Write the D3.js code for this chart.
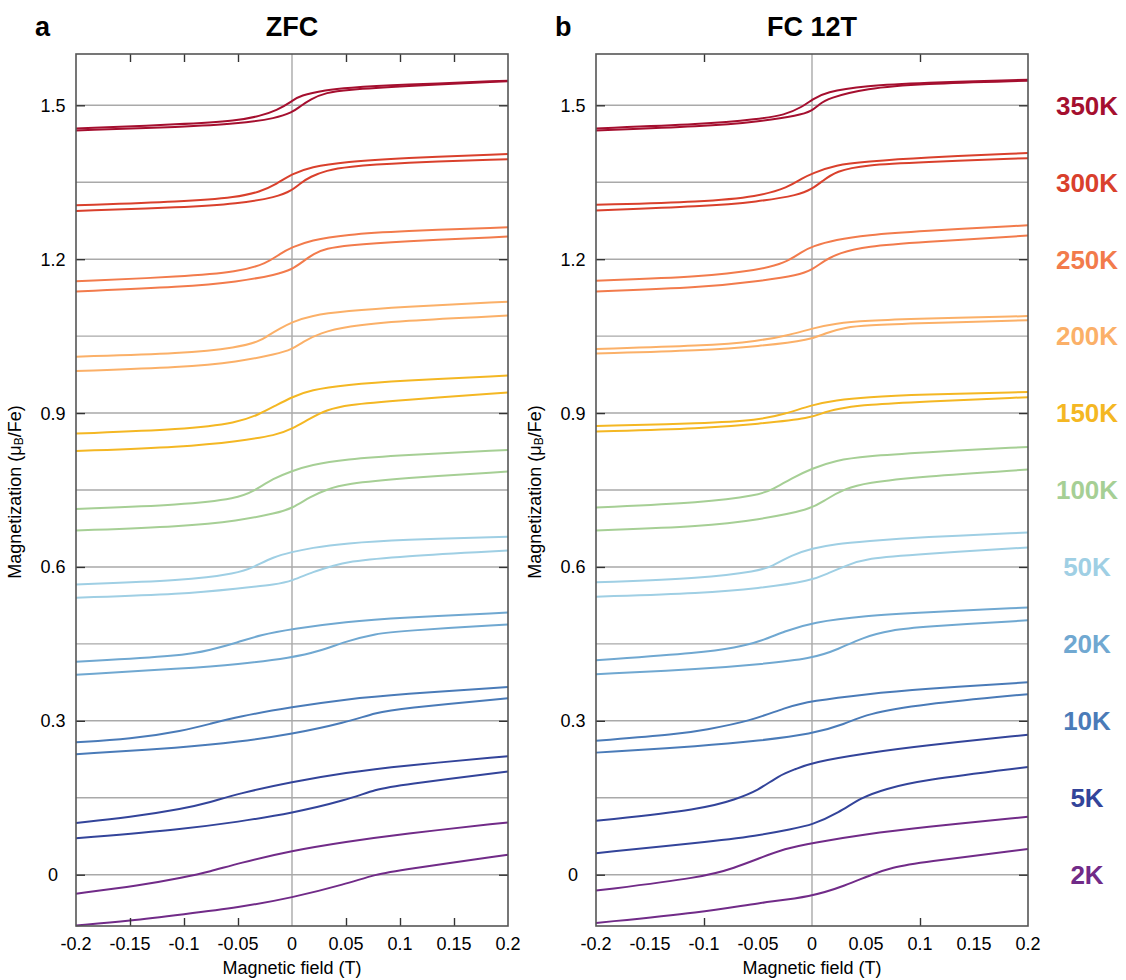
<!DOCTYPE html>
<html>
<head>
<meta charset="utf-8">
<script src="https://cdn.jsdelivr.net/npm/d3@7"></script>
<style>
  body { margin: 0; background: #fff; }
  svg text { font-family: "Liberation Sans", Arial, sans-serif; fill: #000; }
</style>
</head>
<body>
<svg id="chart" width="1126" height="980"></svg>
<script>
// temperatures, top to bottom, and their colours
const temps = ['350K', '300K', '250K', '200K', '150K', '100K', '50K', '20K', '10K', '5K', '2K'];
const colors = ['#a50f2f', '#d9402c', '#f27b4c', '#fbb068', '#f4b723', '#a6cf95', '#9fcfe4', '#70a8d1', '#4a7bb8', '#33449a', '#712b88'];

const xTickValues = [-0.2, -0.15, -0.1, -0.05, 0, 0.05, 0.1, 0.15, 0.2];
const yTickValues = [0, 0.3, 0.6, 0.9, 1.2, 1.5];
const gridValues = [0, 0.15, 0.3, 0.45, 0.6, 0.75, 0.9, 1.05, 1.2, 1.35, 1.5];

// ZFC: upper branch (switches at negative field) and lower branch, [field T, M]
const zfcUpper = [
  [[-0.2,1.455],[-0.1,1.463],[-0.05,1.470],[-0.03,1.479],[-0.014,1.490],[0,1.508],[0.007,1.519],[0.032,1.530],[0.05,1.534],[0.1,1.540],[0.2,1.548]],
  [[-0.2,1.305],[-0.1,1.312],[-0.05,1.321],[-0.03,1.331],[-0.014,1.347],[0,1.366],[0.017,1.380],[0.05,1.390],[0.1,1.397],[0.2,1.405]],
  [[-0.2,1.157],[-0.1,1.166],[-0.05,1.175],[-0.023,1.192],[-0.011,1.211],[0,1.223],[0.017,1.237],[0.05,1.248],[0.1,1.255],[0.2,1.262]],
  [[-0.2,1.010],[-0.1,1.016],[-0.05,1.028],[-0.03,1.040],[-0.023,1.050],[-0.011,1.065],[0,1.077],[0.017,1.090],[0.05,1.099],[0.1,1.107],[0.2,1.117]],
  [[-0.2,0.860],[-0.1,0.868],[-0.05,0.881],[-0.03,0.898],[-0.014,0.916],[0,0.931],[0.017,0.945],[0.05,0.955],[0.1,0.963],[0.2,0.973]],
  [[-0.2,0.713],[-0.1,0.721],[-0.05,0.734],[-0.036,0.747],[-0.017,0.773],[0,0.787],[0.017,0.799],[0.05,0.810],[0.1,0.818],[0.2,0.828]],
  [[-0.2,0.566],[-0.1,0.573],[-0.05,0.588],[-0.036,0.599],[-0.017,0.620],[0,0.629],[0.017,0.637],[0.05,0.646],[0.1,0.653],[0.2,0.659]],
  [[-0.2,0.415],[-0.1,0.427],[-0.076,0.438],[-0.05,0.453],[-0.03,0.467],[0,0.479],[0.05,0.493],[0.1,0.501],[0.2,0.511]],
  [[-0.2,0.258],[-0.15,0.264],[-0.1,0.281],[-0.076,0.294],[-0.05,0.308],[0,0.327],[0.05,0.342],[0.1,0.352],[0.2,0.366]],
  [[-0.2,0.101],[-0.15,0.112],[-0.1,0.129],[-0.076,0.141],[-0.05,0.158],[0,0.181],[0.05,0.199],[0.1,0.212],[0.2,0.231]],
  [[-0.2,-0.037],[-0.141,-0.021],[-0.1,-0.005],[-0.076,0.006],[-0.05,0.022],[0,0.047],[0.05,0.064],[0.1,0.079],[0.2,0.102]]
];
const zfcLower = [
  [[-0.2,1.451],[-0.1,1.458],[-0.05,1.464],[-0.014,1.475],[0,1.486],[0.007,1.497],[0.017,1.512],[0.032,1.525],[0.05,1.530],[0.1,1.537],[0.2,1.547]],
  [[-0.2,1.294],[-0.1,1.301],[-0.05,1.308],[-0.014,1.321],[0,1.334],[0.007,1.347],[0.017,1.361],[0.032,1.373],[0.05,1.380],[0.1,1.388],[0.2,1.395]],
  [[-0.2,1.137],[-0.1,1.146],[-0.05,1.156],[-0.014,1.170],[0,1.180],[0.010,1.195],[0.020,1.211],[0.032,1.221],[0.05,1.227],[0.1,1.235],[0.2,1.244]],
  [[-0.2,0.982],[-0.1,0.989],[-0.05,1.000],[-0.014,1.015],[0,1.024],[0.010,1.039],[0.026,1.056],[0.05,1.069],[0.1,1.080],[0.2,1.090]],
  [[-0.2,0.826],[-0.1,0.834],[-0.05,0.845],[-0.014,0.857],[0,0.869],[0.017,0.890],[0.032,0.906],[0.05,0.916],[0.1,0.925],[0.2,0.940]],
  [[-0.2,0.671],[-0.1,0.679],[-0.05,0.690],[-0.014,0.705],[0,0.714],[0.017,0.737],[0.032,0.751],[0.05,0.762],[0.1,0.773],[0.2,0.786]],
  [[-0.2,0.540],[-0.1,0.547],[-0.05,0.558],[-0.014,0.566],[0,0.573],[0.020,0.591],[0.038,0.602],[0.05,0.610],[0.1,0.621],[0.2,0.632]],
  [[-0.2,0.390],[-0.1,0.402],[-0.05,0.410],[0,0.423],[0.026,0.436],[0.05,0.455],[0.078,0.470],[0.1,0.475],[0.2,0.488]],
  [[-0.2,0.235],[-0.1,0.248],[-0.05,0.259],[0,0.274],[0.05,0.297],[0.078,0.316],[0.1,0.324],[0.2,0.344]],
  [[-0.2,0.071],[-0.1,0.089],[-0.05,0.103],[0,0.120],[0.05,0.145],[0.078,0.167],[0.1,0.175],[0.2,0.201]],
  [[-0.2,-0.099],[-0.15,-0.090],[-0.1,-0.077],[-0.05,-0.064],[0,-0.045],[0.05,-0.018],[0.078,0.001],[0.1,0.009],[0.2,0.039]]
];

// FC 12T
const fcUpper = [
  [[-0.2,1.455],[-0.1,1.463],[-0.05,1.473],[-0.025,1.481],[-0.009,1.497],[0,1.511],[0.012,1.526],[0.05,1.538],[0.1,1.544],[0.2,1.550]],
  [[-0.2,1.306],[-0.1,1.312],[-0.05,1.322],[-0.022,1.340],[-0.009,1.358],[0,1.367],[0.022,1.384],[0.05,1.390],[0.1,1.398],[0.2,1.407]],
  [[-0.2,1.158],[-0.1,1.166],[-0.05,1.179],[-0.025,1.192],[-0.009,1.215],[0,1.225],[0.022,1.238],[0.05,1.247],[0.1,1.255],[0.2,1.266]],
  [[-0.2,1.025],[-0.1,1.031],[-0.05,1.040],[-0.019,1.053],[0,1.065],[0.022,1.075],[0.05,1.080],[0.1,1.084],[0.2,1.089]],
  [[-0.2,0.875],[-0.1,0.880],[-0.05,0.886],[-0.025,0.898],[0,0.916],[0.022,0.925],[0.05,0.931],[0.1,0.936],[0.2,0.941]],
  [[-0.2,0.716],[-0.1,0.725],[-0.05,0.740],[-0.037,0.750],[-0.019,0.773],[0,0.792],[0.022,0.808],[0.05,0.816],[0.1,0.823],[0.2,0.834]],
  [[-0.2,0.570],[-0.1,0.578],[-0.05,0.592],[-0.037,0.601],[-0.019,0.623],[0,0.636],[0.022,0.645],[0.05,0.650],[0.1,0.658],[0.2,0.667]],
  [[-0.2,0.418],[-0.1,0.433],[-0.071,0.443],[-0.05,0.453],[-0.025,0.475],[0,0.492],[0.05,0.505],[0.1,0.511],[0.2,0.521]],
  [[-0.2,0.261],[-0.123,0.274],[-0.1,0.282],[-0.056,0.300],[-0.025,0.326],[0,0.339],[0.05,0.352],[0.1,0.362],[0.2,0.375]],
  [[-0.2,0.105],[-0.1,0.128],[-0.071,0.147],[-0.05,0.164],[-0.031,0.193],[-0.015,0.206],[0,0.219],[0.05,0.237],[0.1,0.251],[0.2,0.273]],
  [[-0.2,-0.031],[-0.1,-0.005],[-0.071,0.014],[-0.05,0.031],[-0.025,0.051],[0,0.062],[0.05,0.079],[0.1,0.092],[0.2,0.113]]
];
const fcLower = [
  [[-0.2,1.451],[-0.1,1.459],[-0.05,1.468],[-0.012,1.480],[0,1.489],[0.006,1.501],[0.015,1.514],[0.05,1.533],[0.1,1.542],[0.2,1.548]],
  [[-0.2,1.295],[-0.1,1.303],[-0.05,1.312],[-0.012,1.325],[0,1.337],[0.009,1.351],[0.022,1.372],[0.05,1.384],[0.1,1.389],[0.2,1.397]],
  [[-0.2,1.137],[-0.1,1.145],[-0.05,1.157],[-0.012,1.169],[0,1.179],[0.012,1.198],[0.025,1.212],[0.05,1.225],[0.1,1.233],[0.2,1.246]],
  [[-0.2,1.016],[-0.1,1.022],[-0.05,1.030],[0,1.043],[0.012,1.056],[0.031,1.067],[0.05,1.071],[0.1,1.075],[0.2,1.081]],
  [[-0.2,0.864],[-0.1,0.870],[-0.05,0.879],[0,0.890],[0.012,0.903],[0.031,0.911],[0.05,0.916],[0.1,0.922],[0.2,0.931]],
  [[-0.2,0.671],[-0.1,0.679],[-0.05,0.692],[0,0.712],[0.012,0.731],[0.031,0.753],[0.05,0.764],[0.1,0.776],[0.2,0.790]],
  [[-0.2,0.542],[-0.1,0.549],[-0.05,0.558],[0,0.573],[0.015,0.588],[0.031,0.602],[0.05,0.617],[0.1,0.625],[0.2,0.638]],
  [[-0.2,0.391],[-0.1,0.401],[-0.05,0.410],[0,0.421],[0.025,0.440],[0.046,0.462],[0.074,0.477],[0.1,0.483],[0.2,0.496]],
  [[-0.2,0.238],[-0.1,0.251],[-0.05,0.261],[0,0.274],[0.031,0.294],[0.05,0.313],[0.1,0.332],[0.2,0.352]],
  [[-0.2,0.042],[-0.1,0.063],[-0.05,0.076],[-0.019,0.089],[0,0.097],[0.025,0.121],[0.046,0.151],[0.068,0.167],[0.1,0.184],[0.2,0.210]],
  [[-0.2,-0.094],[-0.1,-0.073],[-0.05,-0.055],[0,-0.043],[0.031,-0.021],[0.056,0.001],[0.074,0.014],[0.1,0.024],[0.2,0.050]]
];

const svg = d3.select('#chart');
const plotTop = 54, plotBottom = 926, plotW = 432;

let y = d3.scaleLinear().domain([-0.1, 1.6]).range([plotBottom, plotTop]);
let fmt = d => String(+(+d).toFixed(2));

let drawPanel = (opt) => {
  let x = d3.scaleLinear().domain([-0.2, 0.2]).range([opt.left, opt.left + plotW]);
  let g = svg.append('g');

  // grid
  g.selectAll('.hgrid').data(gridValues).enter().append('line')
    .attr('x1', x(-0.2)).attr('x2', x(0.2))
    .attr('y1', d => y(d)).attr('y2', d => y(d))
    .attr('stroke', '#a9a9a9').attr('stroke-width', 1.4);
  g.append('line')
    .attr('x1', x(0)).attr('x2', x(0)).attr('y1', plotTop).attr('y2', plotBottom)
    .attr('stroke', '#a9a9a9').attr('stroke-width', 1.4);

  let line = d3.line().x(d => x(d[0])).y(d => y(d[1])).curve(d3.curveBasis);
  let curves = [];
  temps.forEach((t, i) => {
    curves.push({c: colors[i], pts: opt.lower[i]});
    curves.push({c: colors[i], pts: opt.upper[i]});
  });
  g.selectAll('.curve').data(curves).enter().append('path')
    .attr('d', d => line(d.pts))
    .attr('fill', 'none')
    .attr('stroke', d => d.c)
    .attr('stroke-width', 2)
    .attr('stroke-linejoin', 'round');

  // ticks, all pointing inward
  let tickStyle = (sel) => {
    sel.select('.domain').remove();
    sel.selectAll('.tick line').attr('stroke', '#333').attr('stroke-width', 1.4);
  };
  g.append('g').attr('transform', `translate(0,${plotBottom})`)
    .call(d3.axisBottom(x).tickValues(opt.xTicks).tickSize(-8).tickFormat(''))
    .call(tickStyle);
  g.append('g').attr('transform', `translate(0,${plotTop})`)
    .call(d3.axisTop(x).tickValues(opt.xTicks).tickSize(-8).tickFormat(''))
    .call(tickStyle);
  g.append('g').attr('transform', `translate(${x(-0.2)},0)`)
    .call(d3.axisLeft(y).tickValues(yTickValues).tickSize(-9).tickFormat(''))
    .call(tickStyle);
  g.append('g').attr('transform', `translate(${x(0.2)},0)`)
    .call(d3.axisRight(y).tickValues(yTickValues).tickSize(-9).tickFormat(''))
    .call(tickStyle);

  // tick labels
  g.selectAll('.xl').data(xTickValues).enter().append('text')
    .attr('x', d => x(d)).attr('y', 950)
    .attr('text-anchor', 'middle').attr('font-size', 18)
    .text(fmt);
  g.selectAll('.yl').data(yTickValues).enter().append('text')
    .attr('x', opt.left - 23).attr('y', d => y(d)).attr('dy', '0.36em')
    .attr('text-anchor', 'middle').attr('font-size', 18)
    .text(fmt);

  // frame
  g.append('rect')
    .attr('x', x(-0.2)).attr('y', plotTop).attr('width', plotW).attr('height', plotBottom - plotTop)
    .attr('fill', 'none').attr('stroke', '#555').attr('stroke-width', 1.6);

  // titles
  g.append('text').attr('x', x(0)).attr('y', 974)
    .attr('text-anchor', 'middle').attr('font-size', 18)
    .text('Magnetic field (T)');
  let yt = g.append('text')
    .attr('transform', `translate(${opt.left - 55},${(plotTop + plotBottom) / 2 + 2}) rotate(-90)`)
    .attr('text-anchor', 'middle').attr('font-size', 18);
  yt.append('tspan').text('Magnetization (μ');
  yt.append('tspan').attr('font-size', 12).attr('baseline-shift', '-20%').text('B');
  yt.append('tspan').text('/Fe)');

  g.append('text').attr('x', x(0)).attr('y', 36)
    .attr('text-anchor', 'middle').attr('font-size', 27).attr('font-weight', 'bold')
    .text(opt.title);
  g.append('text').attr('x', opt.left - 41).attr('y', 36)
    .attr('font-size', 27).attr('font-weight', 'bold')
    .text(opt.letter);
};

drawPanel({letter: 'a', title: 'ZFC', left: 76, upper: zfcUpper, lower: zfcLower,
  xTicks: [-0.15, -0.1, -0.05, 0.05, 0.1, 0.15]});
drawPanel({letter: 'b', title: 'FC 12T', left: 596, upper: fcUpper, lower: fcLower,
  xTicks: [-0.1, 0.1]});

// temperature labels, one per grid level
svg.selectAll('.temp').data(temps).enter().append('text')
  .attr('x', 1087)
  .attr('y', (d, i) => y(1.5 - i * 0.15))
  .attr('dy', '0.36em')
  .attr('text-anchor', 'middle')
  .attr('font-size', 26).attr('font-weight', 'bold')
  .style('fill', (d, i) => colors[i])
  .text(d => d);
</script>
</body>
</html>
